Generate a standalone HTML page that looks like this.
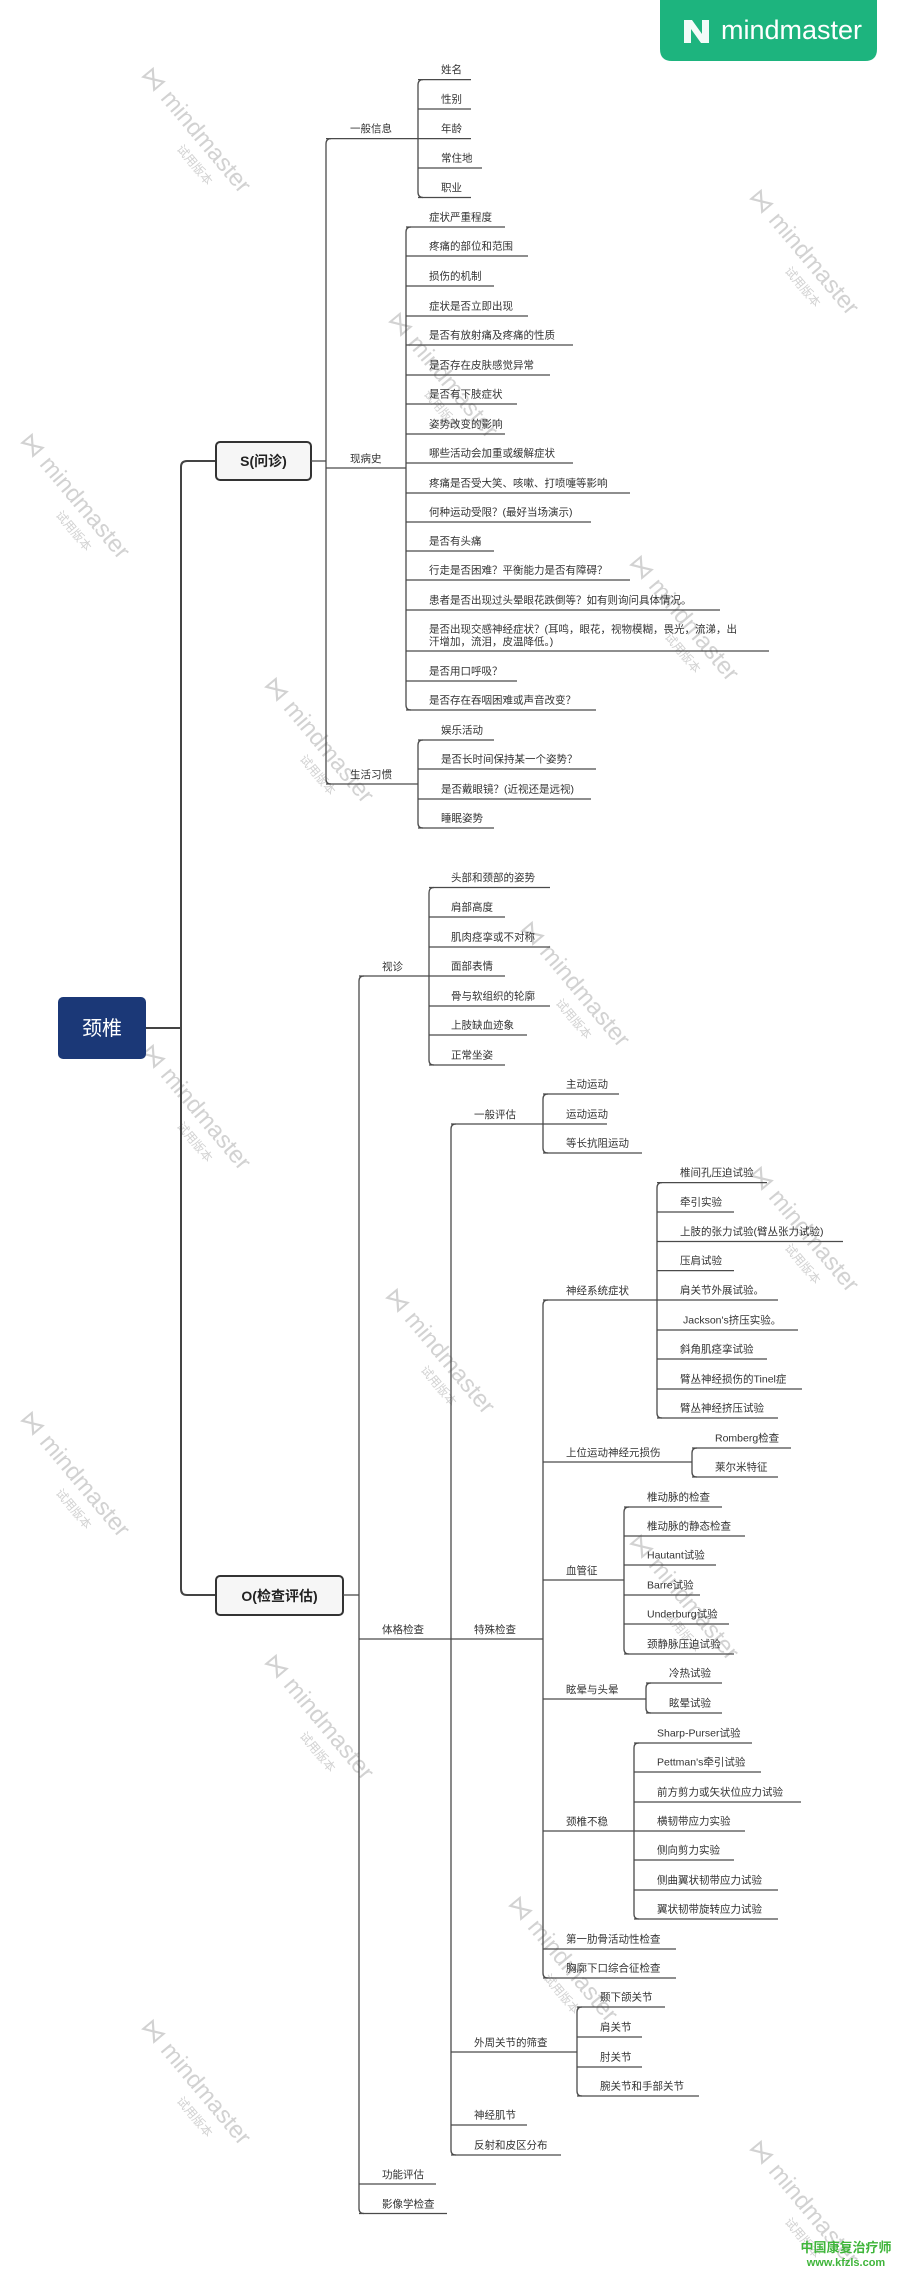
<!DOCTYPE html>
<html><head><meta charset="utf-8"><style>
html,body{margin:0;padding:0;background:#fff;}
svg{display:block;}
text{font-family:"Liberation Sans","Noto Sans CJK SC",sans-serif;}
.t{font-size:10.5px;fill:#333;}
.l{stroke:#4a4a4a;stroke-width:1.3;fill:none;}
.L{stroke:#444;stroke-width:2;fill:none;}
.wm{font-size:24px;fill:#d2d2d2;}
.ws{font-size:12px;fill:#d2d2d2;}
</style></head><body>
<svg width="900" height="2272" viewBox="0 0 900 2272" xmlns="http://www.w3.org/2000/svg">
<!-- watermarks -->
<g>
<g transform="translate(140,75) rotate(50)"><text class="wm" x="0" y="0">⋈ mindmaster</text><text class="ws" x="80" y="20">试用版本</text></g>
<g transform="translate(748,197) rotate(50)"><text class="wm" x="0" y="0">⋈ mindmaster</text><text class="ws" x="80" y="20">试用版本</text></g>
<g transform="translate(387,320) rotate(50)"><text class="wm" x="0" y="0">⋈ mindmaster</text><text class="ws" x="80" y="20">试用版本</text></g>
<g transform="translate(19,441) rotate(50)"><text class="wm" x="0" y="0">⋈ mindmaster</text><text class="ws" x="80" y="20">试用版本</text></g>
<g transform="translate(628,563) rotate(50)"><text class="wm" x="0" y="0">⋈ mindmaster</text><text class="ws" x="80" y="20">试用版本</text></g>
<g transform="translate(263,685) rotate(50)"><text class="wm" x="0" y="0">⋈ mindmaster</text><text class="ws" x="80" y="20">试用版本</text></g>
<g transform="translate(519,929) rotate(50)"><text class="wm" x="0" y="0">⋈ mindmaster</text><text class="ws" x="80" y="20">试用版本</text></g>
<g transform="translate(140,1052) rotate(50)"><text class="wm" x="0" y="0">⋈ mindmaster</text><text class="ws" x="80" y="20">试用版本</text></g>
<g transform="translate(748,1174) rotate(50)"><text class="wm" x="0" y="0">⋈ mindmaster</text><text class="ws" x="80" y="20">试用版本</text></g>
<g transform="translate(384,1296) rotate(50)"><text class="wm" x="0" y="0">⋈ mindmaster</text><text class="ws" x="80" y="20">试用版本</text></g>
<g transform="translate(19,1419) rotate(50)"><text class="wm" x="0" y="0">⋈ mindmaster</text><text class="ws" x="80" y="20">试用版本</text></g>
<g transform="translate(628,1542) rotate(50)"><text class="wm" x="0" y="0">⋈ mindmaster</text><text class="ws" x="80" y="20">试用版本</text></g>
<g transform="translate(263,1662) rotate(50)"><text class="wm" x="0" y="0">⋈ mindmaster</text><text class="ws" x="80" y="20">试用版本</text></g>
<g transform="translate(507,1904) rotate(50)"><text class="wm" x="0" y="0">⋈ mindmaster</text><text class="ws" x="80" y="20">试用版本</text></g>
<g transform="translate(140,2027) rotate(50)"><text class="wm" x="0" y="0">⋈ mindmaster</text><text class="ws" x="80" y="20">试用版本</text></g>
<g transform="translate(748,2148) rotate(50)"><text class="wm" x="0" y="0">⋈ mindmaster</text><text class="ws" x="80" y="20">试用版本</text></g>
</g>

<!-- badge -->
<path d="M660,0 H877 V49 Q877,61 865,61 H672 Q660,61 660,49 Z" fill="#1db47e"/>
<path d="M684,20 L692,20 L702,34 L702,20 L709,20 L709,43 L701,43 L691,29 L691,43 L684,43 Z" fill="#fff" opacity="0.95"/>
<text x="721" y="39" font-size="27" fill="#fff">mindmaster</text>

<!-- root -->
<rect x="58" y="997" width="88" height="62" rx="5" fill="#1b3877"/>
<text x="102" y="1035" font-size="20" fill="#fff" text-anchor="middle">颈椎</text>
<path class="L" d="M146,1028 H181"/>
<path class="L" d="M216,461 H187 Q181,461 181,467 V1589 Q181,1595 187,1595 H216"/>

<!-- S box -->
<rect x="216" y="442" width="95" height="38" rx="4" fill="#f6f6f6" stroke="#333" stroke-width="2"/>
<text x="263.5" y="466" font-size="14" fill="#222" text-anchor="middle" font-weight="bold">S(问诊)</text>
<path class="l" d="M311,461 H326"/>
<path class="l" d="M331,138.6 Q326,138.6 326,144 V779 Q326,784 331,784"/>
<!-- 一般信息 -->
<path class="l" d="M326,138.6 H418"/>
<text class="t" x="350" y="132">一般信息</text>
<path class="l" d="M423,79.6 Q418,79.6 418,85 V192 Q418,197.5 423,197.5"/>
<path class="l" d="M418,79.6 H471 M418,109 H471 M418,138.6 H471 M418,168 H482 M418,197.5 H471"/>
<text class="t" x="441" y="73">姓名</text><text class="t" x="441" y="102.5">性别</text><text class="t" x="441" y="132">年龄</text><text class="t" x="441" y="161.5">常住地</text><text class="t" x="441" y="191">职业</text>
<!-- 现病史 -->
<path class="l" d="M326,468 H406"/>
<text class="t" x="350" y="462">现病史</text>
<path class="l" d="M411,227 Q406,227 406,232 V705 Q406,710 411,710"/>
<path class="l" d="M406,227 H505 M406,256 H528 M406,286 H494 M406,316 H528 M406,345 H573 M406,375 H550 M406,404 H517 M406,434 H505 M406,463 H573 M406,493 H630 M406,522 H591 M406,551 H494 M406,580 H630 M406,610 H720 M406,651 H769 M406,681 H517 M406,710 H596"/>
<text class="t" x="429" y="220.5">症状严重程度</text>
<text class="t" x="429" y="249.5">疼痛的部位和范围</text>
<text class="t" x="429" y="279.5">损伤的机制</text>
<text class="t" x="429" y="309.5">症状是否立即出现</text>
<text class="t" x="429" y="338.5">是否有放射痛及疼痛的性质</text>
<text class="t" x="429" y="368.5">是否存在皮肤感觉异常</text>
<text class="t" x="429" y="397.5">是否有下肢症状</text>
<text class="t" x="429" y="427.5">姿势改变的影响</text>
<text class="t" x="429" y="456.5">哪些活动会加重或缓解症状</text>
<text class="t" x="429" y="486.5">疼痛是否受大笑、咳嗽、打喷嚏等影响</text>
<text class="t" x="429" y="515.5">何种运动受限？(最好当场演示)</text>
<text class="t" x="429" y="544.5">是否有头痛</text>
<text class="t" x="429" y="573.5">行走是否困难？平衡能力是否有障碍？</text>
<text class="t" x="429" y="603.5">患者是否出现过头晕眼花跌倒等？如有则询问具体情况。</text>
<text class="t" x="429" y="632.5">是否出现交感神经症状？(耳鸣，眼花，视物模糊，畏光，流涕，出</text>
<text class="t" x="429" y="645">汗增加，流泪，皮温降低。)</text>
<text class="t" x="429" y="674.5">是否用口呼吸？</text>
<text class="t" x="429" y="703.5">是否存在吞咽困难或声音改变？</text>
<!-- 生活习惯 -->
<path class="l" d="M326,784 H418"/>
<text class="t" x="350" y="778">生活习惯</text>
<path class="l" d="M423,740 Q418,740 418,745 V823 Q418,828 423,828"/>
<path class="l" d="M418,740 H494 M418,769 H596 M418,799 H591 M418,828 H494"/>
<text class="t" x="441" y="733.5">娱乐活动</text>
<text class="t" x="441" y="762.5">是否长时间保持某一个姿势？</text>
<text class="t" x="441" y="792.5">是否戴眼镜？(近视还是远视)</text>
<text class="t" x="441" y="821.5">睡眠姿势</text>

<!-- O box -->
<rect x="216" y="1576" width="127" height="39" rx="4" fill="#f6f6f6" stroke="#333" stroke-width="2"/>
<text x="279.5" y="1601" font-size="14" fill="#222" text-anchor="middle" font-weight="bold">O(检查评估)</text>
<path class="l" d="M343,1595 H359"/>
<path class="l" d="M364,976 Q359,976 359,981 V2208.5 Q359,2213.5 364,2213.5"/>
<!-- 视诊 -->
<path class="l" d="M359,976 H429"/>
<text class="t" x="382" y="970">视诊</text>
<path class="l" d="M434,887.5 Q429,887.5 429,893 V1060 Q429,1065 434,1065"/>
<path class="l" d="M429,887.5 H550 M429,917 H505 M429,947 H550 M429,976 H505 M429,1006 H550 M429,1035 H527 M429,1065 H505"/>
<text class="t" x="451" y="881">头部和颈部的姿势</text>
<text class="t" x="451" y="910.5">肩部高度</text>
<text class="t" x="451" y="940.5">肌肉痉挛或不对称</text>
<text class="t" x="451" y="969.5">面部表情</text>
<text class="t" x="451" y="999.5">骨与软组织的轮廓</text>
<text class="t" x="451" y="1028.5">上肢缺血迹象</text>
<text class="t" x="451" y="1058.5">正常坐姿</text>
<!-- 体格检查 -->
<path class="l" d="M359,1639 H451"/>
<text class="t" x="382" y="1633">体格检查</text>
<path class="l" d="M456,1124 Q451,1124 451,1129 V2150 Q451,2155 456,2155"/>
<!-- 功能评估 影像学 -->
<path class="l" d="M359,2184 H436 M359,2213.5 H447"/>
<text class="t" x="382" y="2178">功能评估</text>
<text class="t" x="382" y="2207.5">影像学检查</text>
<!-- 一般评估 -->
<path class="l" d="M451,1124 H543"/>
<text class="t" x="474" y="1118">一般评估</text>
<path class="l" d="M548,1094 Q543,1094 543,1099 V1148 Q543,1153 548,1153"/>
<path class="l" d="M543,1094 H619 M543,1124 H607 M543,1153 H642"/>
<text class="t" x="566" y="1087.5">主动运动</text>
<text class="t" x="566" y="1117.5">运动运动</text>
<text class="t" x="566" y="1146.5">等长抗阻运动</text>
<!-- 特殊检查 -->
<path class="l" d="M451,1639 H543"/>
<text class="t" x="474" y="1633">特殊检查</text>
<path class="l" d="M548,1300 Q543,1300 543,1305 V1973 Q543,1978 548,1978"/>
<!-- 神经系统症状 -->
<path class="l" d="M543,1300 H657"/>
<text class="t" x="566" y="1294">神经系统症状</text>
<path class="l" d="M662,1182.6 Q657,1182.6 657,1188 V1413 Q657,1418 662,1418"/>
<path class="l" d="M657,1182.6 H767 M657,1212 H734 M657,1241.5 H843 M657,1270.6 H734 M657,1300 H778 M657,1330 H798 M657,1359 H767 M657,1389 H802 M657,1418 H778"/>
<text class="t" x="680" y="1176">椎间孔压迫试验</text>
<text class="t" x="680" y="1205.5">牵引实验</text>
<text class="t" x="680" y="1235">上肢的张力试验(臂丛张力试验)</text>
<text class="t" x="680" y="1264">压肩试验</text>
<text class="t" x="680" y="1293.5">肩关节外展试验。</text>
<text class="t" x="683" y="1323.5">Jackson's挤压实验。</text>
<text class="t" x="680" y="1352.5">斜角肌痉挛试验</text>
<text class="t" x="680" y="1382.5">臂丛神经损伤的Tinel症</text>
<text class="t" x="680" y="1411.5">臂丛神经挤压试验</text>
<!-- 上位 -->
<path class="l" d="M543,1462 H692"/>
<text class="t" x="566" y="1456">上位运动神经元损伤</text>
<path class="l" d="M697,1448 Q692,1448 692,1453 V1472 Q692,1477 697,1477"/>
<path class="l" d="M692,1448 H791 M692,1477 H778"/>
<text class="t" x="715" y="1441.5">Romberg检查</text>
<text class="t" x="715" y="1470.5">莱尔米特征</text>
<!-- 血管征 -->
<path class="l" d="M543,1580 H624"/>
<text class="t" x="566" y="1574">血管征</text>
<path class="l" d="M629,1507 Q624,1507 624,1512 V1649 Q624,1654 629,1654"/>
<path class="l" d="M624,1507 H722 M624,1536 H745 M624,1565 H716 M624,1595 H700 M624,1624 H729 M624,1654 H734"/>
<text class="t" x="647" y="1500.5">椎动脉的检查</text>
<text class="t" x="647" y="1529.5">椎动脉的静态检查</text>
<text class="t" x="647" y="1558.5">Hautant试验</text>
<text class="t" x="647" y="1588.5">Barre试验</text>
<text class="t" x="647" y="1617.5">Underburg试验</text>
<text class="t" x="647" y="1647.5">颈静脉压迫试验</text>
<!-- 眩晕 -->
<path class="l" d="M543,1699 H646"/>
<text class="t" x="566" y="1693">眩晕与头晕</text>
<path class="l" d="M651,1683 Q646,1683 646,1688 V1708 Q646,1713 651,1713"/>
<path class="l" d="M646,1683 H722 M646,1713 H722"/>
<text class="t" x="669" y="1676.5">冷热试验</text>
<text class="t" x="669" y="1706.5">眩晕试验</text>
<!-- 颈椎不稳 -->
<path class="l" d="M543,1831 H634"/>
<text class="t" x="566" y="1825">颈椎不稳</text>
<path class="l" d="M639,1743 Q634,1743 634,1748 V1914 Q634,1919 639,1919"/>
<path class="l" d="M634,1743 H752 M634,1772 H761 M634,1802 H801 M634,1831 H745 M634,1860 H734 M634,1890 H778 M634,1919 H778"/>
<text class="t" x="657" y="1736.5">Sharp-Purser试验</text>
<text class="t" x="657" y="1765.5">Pettman's牵引试验</text>
<text class="t" x="657" y="1795.5">前方剪力或矢状位应力试验</text>
<text class="t" x="657" y="1824.5">横韧带应力实验</text>
<text class="t" x="657" y="1853.5">侧向剪力实验</text>
<text class="t" x="657" y="1883.5">侧曲翼状韧带应力试验</text>
<text class="t" x="657" y="1912.5">翼状韧带旋转应力试验</text>
<!-- 第一肋骨 胸廓 -->
<path class="l" d="M543,1949 H676 M543,1978 H676"/>
<text class="t" x="566" y="1942.5">第一肋骨活动性检查</text>
<text class="t" x="566" y="1971.5">胸廓下口综合征检查</text>
<!-- 外周关节 -->
<path class="l" d="M451,2052 H577"/>
<text class="t" x="474" y="2046">外周关节的筛查</text>
<path class="l" d="M582,2007 Q577,2007 577,2012 V2091 Q577,2096 582,2096"/>
<path class="l" d="M577,2007 H665 M577,2037 H642 M577,2067 H642 M577,2096 H699"/>
<text class="t" x="600" y="2000.5">颞下颌关节</text>
<text class="t" x="600" y="2030.5">肩关节</text>
<text class="t" x="600" y="2060.5">肘关节</text>
<text class="t" x="600" y="2089.5">腕关节和手部关节</text>
<!-- 神经肌节 反射 -->
<path class="l" d="M451,2125 H527 M451,2155 H561"/>
<text class="t" x="474" y="2118.5">神经肌节</text>
<text class="t" x="474" y="2148.5">反射和皮区分布</text>

<!-- corner watermark -->
<text x="846" y="2252" font-size="13" fill="#3fb53a" text-anchor="middle" font-weight="bold">中国康复治疗师</text>
<text x="846" y="2266" font-size="11" fill="#3fb53a" text-anchor="middle" font-weight="bold">www.kfzls.com</text>
</svg>
</body></html>
